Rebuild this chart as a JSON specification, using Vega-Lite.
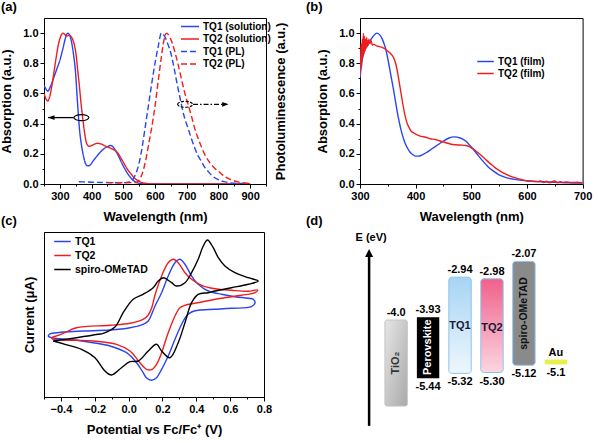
{
"$schema":"https://vega.github.io/schema/vega-lite/v6.json",
"padding":0,
"background":"white",
"config":{
 "font":"Liberation Sans",
 "view":{"stroke":"#000","strokeWidth":1},
 "axis":{"labelFont":"Liberation Sans","titleFont":"Liberation Sans","labelFontWeight":"bold","labelFontSize":11,"labelColor":"#000","titleFontWeight":"bold","titleFontSize":13,"titleColor":"#000","domainColor":"#000","tickColor":"#000","grid":false,"labelOverlap":false,"labelFlush":false,"labelBound":false,"labelPadding":2,"tickWidth":1,"domainWidth":1},
 "title":{"font":"Liberation Sans","fontSize":13,"fontWeight":"bold","color":"#000","anchor":"start","frame":"group","offset":4},
 "legend":{"labelFont":"Liberation Sans"}
},
"columns":2,
"spacing":{"row":48,"column":94},
"bounds":"flush",
"resolve":{"scale":{"color":"independent","strokeDash":"independent"},"legend":{"color":"independent","strokeDash":"independent"}},
"concat":[
 {"width":222,"height":166,
  "title":{"text":"(a)","dx":-43},
  "resolve":{"axis":{"y":"independent"}},
  "layer":[
   {"data":{"values":[
{"s":"TQ1 (solution)","x":250,"y":0.655},{"s":"TQ1 (solution)","x":256,"y":0.63},{"s":"TQ1 (solution)","x":262,"y":0.615},{"s":"TQ1 (solution)","x":270,"y":0.645},{"s":"TQ1 (solution)","x":280,"y":0.7},{"s":"TQ1 (solution)","x":290,"y":0.76},{"s":"TQ1 (solution)","x":300,"y":0.82},{"s":"TQ1 (solution)","x":310,"y":0.9},{"s":"TQ1 (solution)","x":318,"y":0.97},{"s":"TQ1 (solution)","x":325,"y":1.0},{"s":"TQ1 (solution)","x":330,"y":0.99},{"s":"TQ1 (solution)","x":337,"y":0.94},{"s":"TQ1 (solution)","x":343,"y":0.86},{"s":"TQ1 (solution)","x":349,"y":0.75},{"s":"TQ1 (solution)","x":355,"y":0.56},{"s":"TQ1 (solution)","x":362,"y":0.36},{"s":"TQ1 (solution)","x":368,"y":0.26},{"s":"TQ1 (solution)","x":375,"y":0.18},{"s":"TQ1 (solution)","x":381,"y":0.135},{"s":"TQ1 (solution)","x":388,"y":0.12},{"s":"TQ1 (solution)","x":395,"y":0.125},{"s":"TQ1 (solution)","x":404,"y":0.15},{"s":"TQ1 (solution)","x":415,"y":0.18},{"s":"TQ1 (solution)","x":425,"y":0.205},{"s":"TQ1 (solution)","x":440,"y":0.235},{"s":"TQ1 (solution)","x":452,"y":0.25},{"s":"TQ1 (solution)","x":460,"y":0.255},{"s":"TQ1 (solution)","x":468,"y":0.245},{"s":"TQ1 (solution)","x":476,"y":0.22},{"s":"TQ1 (solution)","x":485,"y":0.185},{"s":"TQ1 (solution)","x":495,"y":0.14},{"s":"TQ1 (solution)","x":505,"y":0.1},{"s":"TQ1 (solution)","x":515,"y":0.065},{"s":"TQ1 (solution)","x":525,"y":0.038},{"s":"TQ1 (solution)","x":535,"y":0.018},{"s":"TQ1 (solution)","x":545,"y":0.007},{"s":"TQ1 (solution)","x":560,"y":0.002},{"s":"TQ1 (solution)","x":580,"y":0},{"s":"TQ1 (solution)","x":700,"y":0},{"s":"TQ1 (solution)","x":900,"y":0},
{"s":"TQ2 (solution)","x":250,"y":0.6},{"s":"TQ2 (solution)","x":256,"y":0.565},{"s":"TQ2 (solution)","x":262,"y":0.55},{"s":"TQ2 (solution)","x":268,"y":0.58},{"s":"TQ2 (solution)","x":274,"y":0.64},{"s":"TQ2 (solution)","x":280,"y":0.72},{"s":"TQ2 (solution)","x":287,"y":0.82},{"s":"TQ2 (solution)","x":295,"y":0.92},{"s":"TQ2 (solution)","x":302,"y":0.975},{"s":"TQ2 (solution)","x":310,"y":1.0},{"s":"TQ2 (solution)","x":316,"y":0.99},{"s":"TQ2 (solution)","x":322,"y":0.98},{"s":"TQ2 (solution)","x":328,"y":0.985},{"s":"TQ2 (solution)","x":334,"y":0.98},{"s":"TQ2 (solution)","x":340,"y":0.96},{"s":"TQ2 (solution)","x":346,"y":0.92},{"s":"TQ2 (solution)","x":351,"y":0.86},{"s":"TQ2 (solution)","x":356,"y":0.76},{"s":"TQ2 (solution)","x":362,"y":0.64},{"s":"TQ2 (solution)","x":367,"y":0.53},{"s":"TQ2 (solution)","x":373,"y":0.42},{"s":"TQ2 (solution)","x":378,"y":0.34},{"s":"TQ2 (solution)","x":383,"y":0.28},{"s":"TQ2 (solution)","x":388,"y":0.255},{"s":"TQ2 (solution)","x":393,"y":0.25},{"s":"TQ2 (solution)","x":400,"y":0.255},{"s":"TQ2 (solution)","x":410,"y":0.265},{"s":"TQ2 (solution)","x":420,"y":0.27},{"s":"TQ2 (solution)","x":430,"y":0.265},{"s":"TQ2 (solution)","x":440,"y":0.255},{"s":"TQ2 (solution)","x":451,"y":0.245},{"s":"TQ2 (solution)","x":462,"y":0.235},{"s":"TQ2 (solution)","x":472,"y":0.225},{"s":"TQ2 (solution)","x":483,"y":0.205},{"s":"TQ2 (solution)","x":493,"y":0.17},{"s":"TQ2 (solution)","x":504,"y":0.13},{"s":"TQ2 (solution)","x":514,"y":0.095},{"s":"TQ2 (solution)","x":525,"y":0.065},{"s":"TQ2 (solution)","x":535,"y":0.04},{"s":"TQ2 (solution)","x":546,"y":0.022},{"s":"TQ2 (solution)","x":557,"y":0.01},{"s":"TQ2 (solution)","x":570,"y":0.005},{"s":"TQ2 (solution)","x":590,"y":0},{"s":"TQ2 (solution)","x":700,"y":0},{"s":"TQ2 (solution)","x":900,"y":0}
   ]},
   "mark":{"type":"line","strokeWidth":1.4,"interpolate":"monotone","clip":true},
   "encoding":{
    "x":{"field":"x","type":"quantitative","scale":{"domain":[250,950],"nice":false,"zero":false},"axis":{"title":"Wavelength (nm)","values":[250,300,350,400,450,500,550,600,650,700,750,800,850,900,950],"format":"d","labelExpr":"datum.value % 100 === 0 ? datum.label : ''","tickSize":{"condition":{"test":"datum.value % 100 === 0","value":4},"value":2},"titlePadding":9}},
    "y":{"field":"y","type":"quantitative","scale":{"domain":[0,1.1],"nice":false,"zero":false},"axis":{"title":"Absorption (a.u.)","values":[0,0.1,0.2,0.3,0.4,0.5,0.6,0.7,0.8,0.9,1.0],"format":".1f","labelExpr":"round(datum.value*10) % 2 === 0 ? datum.label : ''","tickSize":{"condition":{"test":"round(datum.value*10) % 2 === 0","value":4},"value":2},"titlePadding":9}},
    "color":{"field":"s","type":"nominal","scale":{"domain":["TQ1 (solution)","TQ2 (solution)","TQ1 (PL)","TQ2 (PL)"],"range":["#2a44f0","#f01d1d","#2a44f0","#f01d1d"]},"legend":{"title":null,"orient":"none","legendX":139,"legendY":1.5,"symbolType":"M-1.5,0H1.5","symbolSize":144,"symbolStrokeWidth":1.5,"labelFontSize":10,"labelFontWeight":"bold","labelOffset":6,"rowPadding":0.5,"padding":0,"labelColor":"#000"}},
    "strokeDash":{"field":"s","type":"nominal","scale":{"domain":["TQ1 (solution)","TQ2 (solution)","TQ1 (PL)","TQ2 (PL)"],"range":[[1,0],[1,0],[6,3],[6,3]]},"legend":{"title":null,"orient":"none","legendX":139,"legendY":1.5,"symbolType":"M-1.5,0H1.5","symbolSize":144,"symbolStrokeWidth":1.5,"labelFontSize":10,"labelFontWeight":"bold","labelOffset":6,"rowPadding":0.5,"padding":0,"labelColor":"#000"}}
   }},
   {"data":{"values":[
{"s":"TQ1 (PL)","x":360,"y":0.015},{"s":"TQ1 (PL)","x":400,"y":0.012},{"s":"TQ1 (PL)","x":440,"y":0.01},{"s":"TQ1 (PL)","x":480,"y":0.008},{"s":"TQ1 (PL)","x":510,"y":0.01},{"s":"TQ1 (PL)","x":520,"y":0.015},{"s":"TQ1 (PL)","x":530,"y":0.03},{"s":"TQ1 (PL)","x":540,"y":0.07},{"s":"TQ1 (PL)","x":550,"y":0.14},{"s":"TQ1 (PL)","x":560,"y":0.25},{"s":"TQ1 (PL)","x":570,"y":0.39},{"s":"TQ1 (PL)","x":580,"y":0.53},{"s":"TQ1 (PL)","x":590,"y":0.67},{"s":"TQ1 (PL)","x":600,"y":0.8},{"s":"TQ1 (PL)","x":610,"y":0.91},{"s":"TQ1 (PL)","x":620,"y":1.0},{"s":"TQ1 (PL)","x":630,"y":0.98},{"s":"TQ1 (PL)","x":640,"y":0.93},{"s":"TQ1 (PL)","x":651,"y":0.86},{"s":"TQ1 (PL)","x":660,"y":0.77},{"s":"TQ1 (PL)","x":672,"y":0.64},{"s":"TQ1 (PL)","x":680,"y":0.56},{"s":"TQ1 (PL)","x":688,"y":0.48},{"s":"TQ1 (PL)","x":696,"y":0.42},{"s":"TQ1 (PL)","x":704,"y":0.37},{"s":"TQ1 (PL)","x":715,"y":0.3},{"s":"TQ1 (PL)","x":725,"y":0.24},{"s":"TQ1 (PL)","x":735,"y":0.19},{"s":"TQ1 (PL)","x":746,"y":0.15},{"s":"TQ1 (PL)","x":757,"y":0.11},{"s":"TQ1 (PL)","x":767,"y":0.085},{"s":"TQ1 (PL)","x":780,"y":0.055},{"s":"TQ1 (PL)","x":798,"y":0.03},{"s":"TQ1 (PL)","x":815,"y":0.017},{"s":"TQ1 (PL)","x":830,"y":0.01},{"s":"TQ1 (PL)","x":850,"y":0.005},{"s":"TQ1 (PL)","x":880,"y":0.003},
{"s":"TQ2 (PL)","x":450,"y":0.01},{"s":"TQ2 (PL)","x":500,"y":0.008},{"s":"TQ2 (PL)","x":540,"y":0.01},{"s":"TQ2 (PL)","x":550,"y":0.025},{"s":"TQ2 (PL)","x":560,"y":0.07},{"s":"TQ2 (PL)","x":570,"y":0.15},{"s":"TQ2 (PL)","x":578,"y":0.24},{"s":"TQ2 (PL)","x":590,"y":0.38},{"s":"TQ2 (PL)","x":599,"y":0.5},{"s":"TQ2 (PL)","x":610,"y":0.68},{"s":"TQ2 (PL)","x":620,"y":0.84},{"s":"TQ2 (PL)","x":628,"y":0.95},{"s":"TQ2 (PL)","x":636,"y":1.0},{"s":"TQ2 (PL)","x":645,"y":0.98},{"s":"TQ2 (PL)","x":655,"y":0.93},{"s":"TQ2 (PL)","x":662,"y":0.88},{"s":"TQ2 (PL)","x":672,"y":0.8},{"s":"TQ2 (PL)","x":683,"y":0.7},{"s":"TQ2 (PL)","x":693,"y":0.61},{"s":"TQ2 (PL)","x":704,"y":0.53},{"s":"TQ2 (PL)","x":715,"y":0.45},{"s":"TQ2 (PL)","x":725,"y":0.37},{"s":"TQ2 (PL)","x":740,"y":0.28},{"s":"TQ2 (PL)","x":756,"y":0.2},{"s":"TQ2 (PL)","x":770,"y":0.15},{"s":"TQ2 (PL)","x":788,"y":0.105},{"s":"TQ2 (PL)","x":805,"y":0.075},{"s":"TQ2 (PL)","x":819,"y":0.05},{"s":"TQ2 (PL)","x":835,"y":0.033},{"s":"TQ2 (PL)","x":851,"y":0.02},{"s":"TQ2 (PL)","x":870,"y":0.01},{"s":"TQ2 (PL)","x":890,"y":0.006},{"s":"TQ2 (PL)","x":900,"y":0.006}
   ]},
   "mark":{"type":"line","strokeWidth":1.4,"interpolate":"monotone","clip":true},
   "encoding":{
    "x":{"field":"x","type":"quantitative","scale":{"domain":[250,950],"nice":false,"zero":false},"axis":{"title":"Wavelength (nm)","values":[250,300,350,400,450,500,550,600,650,700,750,800,850,900,950],"format":"d","labelExpr":"datum.value % 100 === 0 ? datum.label : ''","tickSize":{"condition":{"test":"datum.value % 100 === 0","value":4},"value":2},"titlePadding":9}},
    "y":{"field":"y","type":"quantitative","scale":{"domain":[0,1.1],"nice":false,"zero":false},"axis":{"orient":"right","title":"Photoluminescence (a.u.)","labels":false,"ticks":false,"domain":false,"titleAngle":270,"titleBaseline":"top","titlePadding":8}},
    "color":{"field":"s","type":"nominal","scale":{"domain":["TQ1 (solution)","TQ2 (solution)","TQ1 (PL)","TQ2 (PL)"],"range":["#2a44f0","#f01d1d","#2a44f0","#f01d1d"]},"legend":{"title":null,"orient":"none","legendX":139,"legendY":1.5,"symbolType":"M-1.5,0H1.5","symbolSize":144,"symbolStrokeWidth":1.5,"labelFontSize":10,"labelFontWeight":"bold","labelOffset":6,"rowPadding":0.5,"padding":0,"labelColor":"#000"}},
    "strokeDash":{"field":"s","type":"nominal","scale":{"domain":["TQ1 (solution)","TQ2 (solution)","TQ1 (PL)","TQ2 (PL)"],"range":[[1,0],[1,0],[6,3],[6,3]]},"legend":{"title":null,"orient":"none","legendX":139,"legendY":1.5,"symbolType":"M-1.5,0H1.5","symbolSize":144,"symbolStrokeWidth":1.5,"labelFontSize":10,"labelFontWeight":"bold","labelOffset":6,"rowPadding":0.5,"padding":0,"labelColor":"#000"}}
   }},
   {"data":{"values":[{}]},"mark":{"type":"rule","color":"#000","strokeWidth":1.3},
    "encoding":{"x":{"datum":263,"type":"quantitative","axis":{"title":"Wavelength (nm)","values":[250,300,350,400,450,500,550,600,650,700,750,800,850,900,950],"format":"d","labelExpr":"datum.value % 100 === 0 ? datum.label : ''","tickSize":{"condition":{"test":"datum.value % 100 === 0","value":4},"value":2},"titlePadding":9}},"x2":{"datum":344},"y":{"datum":0.44,"type":"quantitative","axis":null}}},
   {"data":{"values":[{}]},"mark":{"type":"point","shape":"M0,0L1.6,-0.6L1.6,0.6Z","size":64,"filled":true,"color":"#000","opacity":1},
    "encoding":{"x":{"datum":263,"type":"quantitative","axis":{"title":"Wavelength (nm)","values":[250,300,350,400,450,500,550,600,650,700,750,800,850,900,950],"format":"d","labelExpr":"datum.value % 100 === 0 ? datum.label : ''","tickSize":{"condition":{"test":"datum.value % 100 === 0","value":4},"value":2},"titlePadding":9}},"y":{"datum":0.44,"type":"quantitative","axis":null}}},
   {"data":{"values":[{}]},"mark":{"type":"point","shape":"M-1,0A1,0.4 0 1,1 1,0A1,0.4 0 1,1 -1,0Z","size":225,"filled":false,"color":"#000","strokeWidth":1.2,"opacity":1},
    "encoding":{"x":{"datum":368,"type":"quantitative","axis":{"title":"Wavelength (nm)","values":[250,300,350,400,450,500,550,600,650,700,750,800,850,900,950],"format":"d","labelExpr":"datum.value % 100 === 0 ? datum.label : ''","tickSize":{"condition":{"test":"datum.value % 100 === 0","value":4},"value":2},"titlePadding":9}},"y":{"datum":0.44,"type":"quantitative","axis":null}}},
   {"data":{"values":[{}]},"mark":{"type":"rule","color":"#000","strokeWidth":1.2,"strokeDash":[5,2,1.5,2]},
    "encoding":{"x":{"datum":720,"type":"quantitative","axis":{"title":"Wavelength (nm)","values":[250,300,350,400,450,500,550,600,650,700,750,800,850,900,950],"format":"d","labelExpr":"datum.value % 100 === 0 ? datum.label : ''","tickSize":{"condition":{"test":"datum.value % 100 === 0","value":4},"value":2},"titlePadding":9}},"x2":{"datum":826},"y":{"datum":0.528,"type":"quantitative","axis":null}}},
   {"data":{"values":[{}]},"mark":{"type":"point","shape":"M0,0L-1.6,-0.6L-1.6,0.6Z","size":64,"filled":true,"color":"#000","opacity":1},
    "encoding":{"x":{"datum":832,"type":"quantitative","axis":{"title":"Wavelength (nm)","values":[250,300,350,400,450,500,550,600,650,700,750,800,850,900,950],"format":"d","labelExpr":"datum.value % 100 === 0 ? datum.label : ''","tickSize":{"condition":{"test":"datum.value % 100 === 0","value":4},"value":2},"titlePadding":9}},"y":{"datum":0.528,"type":"quantitative","axis":null}}},
   {"data":{"values":[{}]},"mark":{"type":"point","shape":"M-1,0A1,0.4 0 1,1 1,0A1,0.4 0 1,1 -1,0Z","size":225,"filled":false,"color":"#000","strokeWidth":1.2,"strokeDash":[3,1.5],"opacity":1},
    "encoding":{"x":{"datum":695,"type":"quantitative","axis":{"title":"Wavelength (nm)","values":[250,300,350,400,450,500,550,600,650,700,750,800,850,900,950],"format":"d","labelExpr":"datum.value % 100 === 0 ? datum.label : ''","tickSize":{"condition":{"test":"datum.value % 100 === 0","value":4},"value":2},"titlePadding":9}},"y":{"datum":0.528,"type":"quantitative","axis":null}}}
  ]},
 {"width":222.6,"height":166,
  "title":{"text":"(b)","dx":-54},
  "data":{"values":[
{"s":"TQ1 (film)","x":300,"y":0.7},{"s":"TQ1 (film)","x":303,"y":0.8},{"s":"TQ1 (film)","x":306,"y":0.86},{"s":"TQ1 (film)","x":310,"y":0.9},{"s":"TQ1 (film)","x":315,"y":0.93},{"s":"TQ1 (film)","x":320,"y":0.96},{"s":"TQ1 (film)","x":325,"y":0.985},{"s":"TQ1 (film)","x":330,"y":1.0},{"s":"TQ1 (film)","x":335,"y":0.99},{"s":"TQ1 (film)","x":340,"y":0.96},{"s":"TQ1 (film)","x":345,"y":0.91},{"s":"TQ1 (film)","x":350,"y":0.83},{"s":"TQ1 (film)","x":355,"y":0.73},{"s":"TQ1 (film)","x":360,"y":0.63},{"s":"TQ1 (film)","x":365,"y":0.52},{"s":"TQ1 (film)","x":370,"y":0.42},{"s":"TQ1 (film)","x":375,"y":0.34},{"s":"TQ1 (film)","x":380,"y":0.28},{"s":"TQ1 (film)","x":385,"y":0.24},{"s":"TQ1 (film)","x":390,"y":0.21},{"s":"TQ1 (film)","x":395,"y":0.195},{"s":"TQ1 (film)","x":400,"y":0.185},{"s":"TQ1 (film)","x":405,"y":0.185},{"s":"TQ1 (film)","x":410,"y":0.19},{"s":"TQ1 (film)","x":420,"y":0.21},{"s":"TQ1 (film)","x":430,"y":0.235},{"s":"TQ1 (film)","x":440,"y":0.26},{"s":"TQ1 (film)","x":450,"y":0.285},{"s":"TQ1 (film)","x":460,"y":0.305},{"s":"TQ1 (film)","x":470,"y":0.312},{"s":"TQ1 (film)","x":480,"y":0.305},{"s":"TQ1 (film)","x":490,"y":0.285},{"s":"TQ1 (film)","x":500,"y":0.245},{"s":"TQ1 (film)","x":510,"y":0.2},{"s":"TQ1 (film)","x":520,"y":0.155},{"s":"TQ1 (film)","x":530,"y":0.115},{"s":"TQ1 (film)","x":540,"y":0.085},{"s":"TQ1 (film)","x":550,"y":0.06},{"s":"TQ1 (film)","x":560,"y":0.045},{"s":"TQ1 (film)","x":575,"y":0.032},{"s":"TQ1 (film)","x":590,"y":0.024},{"s":"TQ1 (film)","x":600,"y":0.02},{"s":"TQ1 (film)","x":625,"y":0.015},{"s":"TQ1 (film)","x":650,"y":0.012},{"s":"TQ1 (film)","x":675,"y":0.008},{"s":"TQ1 (film)","x":700,"y":0.006},
{"s":"TQ2 (film)","x":300,"y":0.72},{"s":"TQ2 (film)","x":301,"y":0.8},{"s":"TQ2 (film)","x":302,"y":0.93},{"s":"TQ2 (film)","x":303,"y":0.78},{"s":"TQ2 (film)","x":304,"y":0.96},{"s":"TQ2 (film)","x":305,"y":0.84},{"s":"TQ2 (film)","x":306,"y":1.0},{"s":"TQ2 (film)","x":307,"y":0.86},{"s":"TQ2 (film)","x":308,"y":0.98},{"s":"TQ2 (film)","x":309,"y":0.88},{"s":"TQ2 (film)","x":310,"y":0.96},{"s":"TQ2 (film)","x":311,"y":0.9},{"s":"TQ2 (film)","x":312,"y":0.97},{"s":"TQ2 (film)","x":313,"y":0.91},{"s":"TQ2 (film)","x":314,"y":0.95},{"s":"TQ2 (film)","x":315,"y":0.92},{"s":"TQ2 (film)","x":316,"y":0.96},{"s":"TQ2 (film)","x":318,"y":0.93},{"s":"TQ2 (film)","x":320,"y":0.95},{"s":"TQ2 (film)","x":322,"y":0.92},{"s":"TQ2 (film)","x":325,"y":0.925},{"s":"TQ2 (film)","x":330,"y":0.915},{"s":"TQ2 (film)","x":335,"y":0.91},{"s":"TQ2 (film)","x":340,"y":0.905},{"s":"TQ2 (film)","x":345,"y":0.895},{"s":"TQ2 (film)","x":350,"y":0.88},{"s":"TQ2 (film)","x":355,"y":0.865},{"s":"TQ2 (film)","x":360,"y":0.84},{"s":"TQ2 (film)","x":364,"y":0.8},{"s":"TQ2 (film)","x":368,"y":0.73},{"s":"TQ2 (film)","x":372,"y":0.64},{"s":"TQ2 (film)","x":376,"y":0.55},{"s":"TQ2 (film)","x":380,"y":0.47},{"s":"TQ2 (film)","x":384,"y":0.41},{"s":"TQ2 (film)","x":388,"y":0.375},{"s":"TQ2 (film)","x":392,"y":0.35},{"s":"TQ2 (film)","x":396,"y":0.34},{"s":"TQ2 (film)","x":400,"y":0.33},{"s":"TQ2 (film)","x":408,"y":0.317},{"s":"TQ2 (film)","x":418,"y":0.31},{"s":"TQ2 (film)","x":426,"y":0.3},{"s":"TQ2 (film)","x":435,"y":0.295},{"s":"TQ2 (film)","x":444,"y":0.285},{"s":"TQ2 (film)","x":453,"y":0.275},{"s":"TQ2 (film)","x":462,"y":0.265},{"s":"TQ2 (film)","x":471,"y":0.26},{"s":"TQ2 (film)","x":480,"y":0.258},{"s":"TQ2 (film)","x":490,"y":0.255},{"s":"TQ2 (film)","x":498,"y":0.245},{"s":"TQ2 (film)","x":506,"y":0.225},{"s":"TQ2 (film)","x":516,"y":0.195},{"s":"TQ2 (film)","x":525,"y":0.165},{"s":"TQ2 (film)","x":534,"y":0.135},{"s":"TQ2 (film)","x":542,"y":0.11},{"s":"TQ2 (film)","x":550,"y":0.09},{"s":"TQ2 (film)","x":560,"y":0.068},{"s":"TQ2 (film)","x":575,"y":0.045},{"s":"TQ2 (film)","x":590,"y":0.03},{"s":"TQ2 (film)","x":600,"y":0.022},{"s":"TQ2 (film)","x":610,"y":0.018},{"s":"TQ2 (film)","x":620,"y":0.016},{"s":"TQ2 (film)","x":625,"y":0.02},{"s":"TQ2 (film)","x":630,"y":0.01},{"s":"TQ2 (film)","x":635,"y":0.018},{"s":"TQ2 (film)","x":640,"y":0.008},{"s":"TQ2 (film)","x":645,"y":0.016},{"s":"TQ2 (film)","x":650,"y":0.02},{"s":"TQ2 (film)","x":655,"y":0.008},{"s":"TQ2 (film)","x":660,"y":0.015},{"s":"TQ2 (film)","x":665,"y":0.01},{"s":"TQ2 (film)","x":670,"y":0.014},{"s":"TQ2 (film)","x":680,"y":0.01},{"s":"TQ2 (film)","x":690,"y":0.012},{"s":"TQ2 (film)","x":700,"y":0.008}
  ]},
  "mark":{"type":"line","strokeWidth":1.4,"interpolate":"monotone","clip":true},
  "encoding":{
   "x":{"field":"x","type":"quantitative","scale":{"domain":[300,700],"nice":false,"zero":false},"axis":{"title":"Wavelength (nm)","values":[300,350,400,450,500,550,600,650,700],"format":"d","labelExpr":"datum.value % 100 === 0 ? datum.label : ''","tickSize":{"condition":{"test":"datum.value % 100 === 0","value":4},"value":2},"titlePadding":9}},
   "y":{"field":"y","type":"quantitative","scale":{"domain":[0,1.1],"nice":false,"zero":false},"axis":{"title":"Absorption (a.u.)","values":[0,0.1,0.2,0.3,0.4,0.5,0.6,0.7,0.8,0.9,1.0],"format":".1f","labelExpr":"round(datum.value*10) % 2 === 0 ? datum.label : ''","tickSize":{"condition":{"test":"round(datum.value*10) % 2 === 0","value":4},"value":2},"titlePadding":9}},
   "color":{"field":"s","type":"nominal","scale":{"domain":["TQ1 (film)","TQ2 (film)"],"range":["#2a44f0","#f01d1d"]},"legend":{"title":null,"orient":"none","legendX":119,"legendY":37,"symbolType":"M-1.5,0H1.5","symbolSize":121,"symbolStrokeWidth":1.5,"labelFontSize":10,"labelFontWeight":"bold","labelOffset":6,"rowPadding":0,"padding":0,"labelColor":"#000"}}
  }},
 {"width":220,"height":165,
  "title":{"text":"(c)","dx":-43},
  "data":{"values":[
{"s":"TQ1","o":1,"v":-0.465,"i":-2.54},{"s":"TQ1","o":2,"v":-0.386,"i":-2.2},{"s":"TQ1","o":3,"v":-0.268,"i":-2.0},{"s":"TQ1","o":4,"v":-0.11,"i":-1.8},{"s":"TQ1","o":5,"v":0.008,"i":-1.34},{"s":"TQ1","o":6,"v":0.086,"i":-0.66},{"s":"TQ1","o":7,"v":0.116,"i":0},{"s":"TQ1","o":8,"v":0.156,"i":3.0},{"s":"TQ1","o":9,"v":0.195,"i":5.66},{"s":"TQ1","o":10,"v":0.234,"i":9.0},{"s":"TQ1","o":11,"v":0.274,"i":11.66},{"s":"TQ1","o":12,"v":0.303,"i":12.34},{"s":"TQ1","o":13,"v":0.333,"i":11.34},{"s":"TQ1","o":14,"v":0.372,"i":9.0},{"s":"TQ1","o":15,"v":0.411,"i":7.34},{"s":"TQ1","o":16,"v":0.471,"i":6.0},{"s":"TQ1","o":17,"v":0.549,"i":5.34},{"s":"TQ1","o":18,"v":0.628,"i":4.86},{"s":"TQ1","o":19,"v":0.707,"i":4.54},{"s":"TQ1","o":20,"v":0.737,"i":4.34},{"s":"TQ1","o":21,"v":0.747,"i":3.66},{"s":"TQ1","o":22,"v":0.726,"i":2.86},{"s":"TQ1","o":23,"v":0.608,"i":2.54},{"s":"TQ1","o":24,"v":0.51,"i":2.34},{"s":"TQ1","o":25,"v":0.411,"i":2.14},{"s":"TQ1","o":26,"v":0.372,"i":1.8},{"s":"TQ1","o":27,"v":0.342,"i":1.0},{"s":"TQ1","o":28,"v":0.313,"i":-0.66},{"s":"TQ1","o":29,"v":0.274,"i":-3.66},{"s":"TQ1","o":30,"v":0.234,"i":-7.0},{"s":"TQ1","o":31,"v":0.195,"i":-9.66},{"s":"TQ1","o":32,"v":0.165,"i":-11.34},{"s":"TQ1","o":33,"v":0.135,"i":-11.86},{"s":"TQ1","o":34,"v":0.106,"i":-11.4},{"s":"TQ1","o":35,"v":0.086,"i":-10.34},{"s":"TQ1","o":36,"v":0.047,"i":-8.34},{"s":"TQ1","o":37,"v":-0.012,"i":-6.34},{"s":"TQ1","o":38,"v":-0.11,"i":-5.0},{"s":"TQ1","o":39,"v":-0.209,"i":-4.34},{"s":"TQ1","o":40,"v":-0.308,"i":-3.86},{"s":"TQ1","o":41,"v":-0.406,"i":-3.54},{"s":"TQ1","o":42,"v":-0.456,"i":-3.34},{"s":"TQ1","o":43,"v":-0.475,"i":-3.0},{"s":"TQ1","o":44,"v":-0.465,"i":-2.54},
{"s":"TQ2","o":1,"v":-0.446,"i":-3.2},{"s":"TQ2","o":2,"v":-0.386,"i":-2.46},{"s":"TQ2","o":3,"v":-0.308,"i":-1.34},{"s":"TQ2","o":4,"v":-0.11,"i":-0.86},{"s":"TQ2","o":5,"v":0.008,"i":-0.46},{"s":"TQ2","o":6,"v":0.086,"i":0.34},{"s":"TQ2","o":7,"v":0.116,"i":1.2},{"s":"TQ2","o":8,"v":0.136,"i":2.6},{"s":"TQ2","o":9,"v":0.156,"i":5.2},{"s":"TQ2","o":10,"v":0.195,"i":9.0},{"s":"TQ2","o":11,"v":0.234,"i":11.66},{"s":"TQ2","o":12,"v":0.264,"i":12.34},{"s":"TQ2","o":13,"v":0.293,"i":11.66},{"s":"TQ2","o":14,"v":0.333,"i":9.66},{"s":"TQ2","o":15,"v":0.372,"i":8.34},{"s":"TQ2","o":16,"v":0.431,"i":7.14},{"s":"TQ2","o":17,"v":0.51,"i":6.46},{"s":"TQ2","o":18,"v":0.608,"i":6.14},{"s":"TQ2","o":19,"v":0.707,"i":5.94},{"s":"TQ2","o":20,"v":0.762,"i":6.2},{"s":"TQ2","o":21,"v":0.747,"i":5.66},{"s":"TQ2","o":22,"v":0.667,"i":5.14},{"s":"TQ2","o":23,"v":0.549,"i":4.54},{"s":"TQ2","o":24,"v":0.431,"i":3.8},{"s":"TQ2","o":25,"v":0.333,"i":3.14},{"s":"TQ2","o":26,"v":0.303,"i":2.66},{"s":"TQ2","o":27,"v":0.274,"i":1.0},{"s":"TQ2","o":28,"v":0.234,"i":-2.34},{"s":"TQ2","o":29,"v":0.195,"i":-6.34},{"s":"TQ2","o":30,"v":0.165,"i":-8.66},{"s":"TQ2","o":31,"v":0.14,"i":-9.66},{"s":"TQ2","o":32,"v":0.106,"i":-9.66},{"s":"TQ2","o":33,"v":0.067,"i":-8.34},{"s":"TQ2","o":34,"v":0.008,"i":-6.0},{"s":"TQ2","o":35,"v":-0.071,"i":-4.66},{"s":"TQ2","o":36,"v":-0.209,"i":-4.0},{"s":"TQ2","o":37,"v":-0.308,"i":-3.86},{"s":"TQ2","o":38,"v":-0.406,"i":-3.8},{"s":"TQ2","o":39,"v":-0.446,"i":-3.66},{"s":"TQ2","o":40,"v":-0.455,"i":-3.4},{"s":"TQ2","o":41,"v":-0.446,"i":-3.2},
{"s":"spiro-OMeTAD","o":1,"v":-0.446,"i":-4.0},{"s":"spiro-OMeTAD","o":2,"v":-0.308,"i":-3.34},{"s":"spiro-OMeTAD","o":3,"v":-0.18,"i":-2.66},{"s":"spiro-OMeTAD","o":4,"v":-0.15,"i":-2.46},{"s":"spiro-OMeTAD","o":5,"v":-0.081,"i":-1.2},{"s":"spiro-OMeTAD","o":6,"v":-0.032,"i":1.66},{"s":"spiro-OMeTAD","o":7,"v":0.027,"i":4.34},{"s":"spiro-OMeTAD","o":8,"v":0.086,"i":5.34},{"s":"spiro-OMeTAD","o":9,"v":0.145,"i":6.66},{"s":"spiro-OMeTAD","o":10,"v":0.175,"i":8.0},{"s":"spiro-OMeTAD","o":11,"v":0.205,"i":8.66},{"s":"spiro-OMeTAD","o":12,"v":0.254,"i":7.66},{"s":"spiro-OMeTAD","o":13,"v":0.283,"i":7.0},{"s":"spiro-OMeTAD","o":14,"v":0.333,"i":7.66},{"s":"spiro-OMeTAD","o":15,"v":0.372,"i":9.66},{"s":"spiro-OMeTAD","o":16,"v":0.411,"i":12.34},{"s":"spiro-OMeTAD","o":17,"v":0.441,"i":15.0},{"s":"spiro-OMeTAD","o":18,"v":0.466,"i":16.2},{"s":"spiro-OMeTAD","o":19,"v":0.5,"i":14.66},{"s":"spiro-OMeTAD","o":20,"v":0.53,"i":12.66},{"s":"spiro-OMeTAD","o":21,"v":0.569,"i":11.0},{"s":"spiro-OMeTAD","o":22,"v":0.628,"i":9.66},{"s":"spiro-OMeTAD","o":23,"v":0.707,"i":8.66},{"s":"spiro-OMeTAD","o":24,"v":0.766,"i":8.0},{"s":"spiro-OMeTAD","o":25,"v":0.707,"i":7.34},{"s":"spiro-OMeTAD","o":26,"v":0.608,"i":6.66},{"s":"spiro-OMeTAD","o":27,"v":0.51,"i":6.0},{"s":"spiro-OMeTAD","o":28,"v":0.471,"i":5.66},{"s":"spiro-OMeTAD","o":29,"v":0.411,"i":5.34},{"s":"spiro-OMeTAD","o":30,"v":0.372,"i":3.66},{"s":"spiro-OMeTAD","o":31,"v":0.333,"i":-0.34},{"s":"spiro-OMeTAD","o":32,"v":0.293,"i":-4.34},{"s":"spiro-OMeTAD","o":33,"v":0.244,"i":-7.34},{"s":"spiro-OMeTAD","o":34,"v":0.195,"i":-6.0},{"s":"spiro-OMeTAD","o":35,"v":0.165,"i":-4.66},{"s":"spiro-OMeTAD","o":36,"v":0.116,"i":-6.0},{"s":"spiro-OMeTAD","o":37,"v":0.057,"i":-8.0},{"s":"spiro-OMeTAD","o":38,"v":0.008,"i":-8.14},{"s":"spiro-OMeTAD","o":39,"v":-0.042,"i":-9.34},{"s":"spiro-OMeTAD","o":40,"v":-0.101,"i":-10.8},{"s":"spiro-OMeTAD","o":41,"v":-0.14,"i":-10.0},{"s":"spiro-OMeTAD","o":42,"v":-0.199,"i":-7.34},{"s":"spiro-OMeTAD","o":43,"v":-0.278,"i":-5.66},{"s":"spiro-OMeTAD","o":44,"v":-0.376,"i":-4.66},{"s":"spiro-OMeTAD","o":45,"v":-0.446,"i":-4.0}
  ]},
  "mark":{"type":"line","strokeWidth":1.4,"interpolate":"catmull-rom","clip":true},
  "encoding":{
   "x":{"field":"v","type":"quantitative","scale":{"domain":[-0.5,0.8],"nice":false,"zero":false},"axis":{"title":"Potential vs Fc/Fc⁺ (V)","values":[-0.5,-0.4,-0.3,-0.2,-0.1,0,0.1,0.2,0.3,0.4,0.5,0.6,0.7,0.8],"format":".1f","labelExpr":"abs(round(datum.value*10)) % 2 === 0 && datum.value > -0.45 ? datum.label : ''","tickSize":{"condition":{"test":"abs(round(datum.value*10)) % 2 === 0","value":4},"value":2},"titlePadding":9}},
   "y":{"field":"i","type":"quantitative","scale":{"domain":[-15.2,17.8],"nice":false,"zero":false},"axis":{"title":"Current (μA)","labels":false,"ticks":false,"titlePadding":8}},
   "order":{"field":"o","type":"quantitative"},
   "color":{"field":"s","type":"nominal","scale":{"domain":["TQ1","TQ2","spiro-OMeTAD"],"range":["#2a44f0","#f01d1d","#000000"]},"legend":{"title":null,"orient":"none","legendX":12,"legendY":3,"symbolType":"M-1.5,0H1.5","symbolSize":121,"symbolStrokeWidth":1.5,"labelFontSize":10.5,"labelFontWeight":"bold","labelOffset":6,"rowPadding":2,"padding":0,"labelColor":"#000"}}
  }},
 {"width":232,"height":200,
  "title":{"text":"(d)","dx":-54},
  "view":{"stroke":null},
  "data":{"values":[
   {"name":"TiO2","top":-4.0,"bottom":-6.13,"up":"-4.0","low":"","inner":"TiO₂"},
   {"name":"Perovskite","top":-3.93,"bottom":-5.44,"up":"-3.93","low":"-5.44","inner":"Perovskite"},
   {"name":"TQ1","top":-2.94,"bottom":-5.32,"up":"-2.94","low":"-5.32","inner":"TQ1"},
   {"name":"TQ2","top":-2.98,"bottom":-5.30,"up":"-2.98","low":"-5.30","inner":"TQ2"},
   {"name":"spiro","top":-2.55,"bottom":-5.12,"up":"-2.07","low":"-5.12","inner":"spiro-OMeTAD"},
   {"name":"Au","top":-4.98,"bottom":-5.1,"up":"Au","low":"-5.1","inner":""}
  ]},
  "layer":[
   {"data":{"values":[{}]},"mark":{"type":"rule","strokeWidth":2.5,"color":"#000","xOffset":-27},
    "encoding":{"x":{"datum":"TiO2","type":"nominal","scale":{"type":"band","domain":["TiO2","Perovskite","TQ1","TQ2","spiro","Au"],"paddingInner":0.3,"paddingOuter":0.78},"axis":null},"y":{"datum":-6.62,"type":"quantitative","scale":{"domain":[-6.772,-1.822],"nice":false,"zero":false},"axis":null},"y2":{"datum":-2.38}}},
   {"data":{"values":[{}]},"mark":{"type":"point","shape":"M0,0L-0.8,1.6L0.8,1.6Z","size":100,"filled":true,"color":"#000","opacity":1,"xOffset":-27},
    "encoding":{"x":{"datum":"TiO2","type":"nominal","axis":null},"y":{"datum":-2.24,"type":"quantitative","axis":null}}},
   {"data":{"values":[{}]},"mark":{"type":"text","text":"E (eV)","fontSize":11,"fontWeight":"bold","color":"#000","dx":-25},
    "encoding":{"x":{"datum":"TiO2","type":"nominal","axis":null},"y":{"datum":-1.97,"type":"quantitative","axis":null}}},
   {"transform":[{"filter":"datum.name === 'TiO2'"}],
    "mark":{"type":"bar","cornerRadius":2,"stroke":"#c4c4c4","strokeWidth":1,"fill":{"gradient":"linear","x1":0,"y1":0,"x2":1,"y2":1,"stops":[{"offset":0,"color":"#e6e6e6"},{"offset":1,"color":"#a9a9a9"}]}},
    "encoding":{"x":{"field":"name","type":"nominal","axis":null},"y":{"field":"top","type":"quantitative","axis":null},"y2":{"field":"bottom"}}},
   {"transform":[{"filter":"datum.name === 'Perovskite'"}],
    "mark":{"type":"bar","fill":"#000000"},
    "encoding":{"x":{"field":"name","type":"nominal","axis":null},"y":{"field":"top","type":"quantitative","axis":null},"y2":{"field":"bottom"}}},
   {"transform":[{"filter":"datum.name === 'TQ1'"}],
    "mark":{"type":"bar","cornerRadius":3,"stroke":"#8cc3ee","strokeWidth":1,"fill":{"gradient":"linear","x1":0,"y1":0,"x2":0,"y2":1,"stops":[{"offset":0,"color":"#a7d4f4"},{"offset":1,"color":"#eef7fd"}]}},
    "encoding":{"x":{"field":"name","type":"nominal","axis":null},"y":{"field":"top","type":"quantitative","axis":null},"y2":{"field":"bottom"}}},
   {"transform":[{"filter":"datum.name === 'TQ2'"}],
    "mark":{"type":"bar","cornerRadius":3,"stroke":"#8cc3ee","strokeWidth":1,"fill":{"gradient":"linear","x1":0,"y1":0,"x2":0,"y2":1,"stops":[{"offset":0,"color":"#f0608a"},{"offset":1,"color":"#fbd6e1"}]}},
    "encoding":{"x":{"field":"name","type":"nominal","axis":null},"y":{"field":"top","type":"quantitative","axis":null},"y2":{"field":"bottom"}}},
   {"transform":[{"filter":"datum.name === 'spiro'"}],
    "mark":{"type":"bar","cornerRadius":3,"stroke":"#8cc3ee","strokeWidth":1,"fill":"#8a8a8a"},
    "encoding":{"x":{"field":"name","type":"nominal","axis":null},"y":{"field":"top","type":"quantitative","axis":null},"y2":{"field":"bottom"}}},
   {"transform":[{"filter":"datum.name === 'Au'"}],
    "mark":{"type":"bar","fill":"#e6f04a"},
    "encoding":{"x":{"field":"name","type":"nominal","axis":null},"y":{"field":"top","type":"quantitative","axis":null},"y2":{"field":"bottom"}}},
   {"mark":{"type":"text","baseline":"bottom","dy":-2,"fontSize":11,"fontWeight":"bold","color":"#000"},
    "encoding":{"x":{"field":"name","type":"nominal","axis":null},"y":{"field":"top","type":"quantitative","axis":null},"text":{"field":"up"}}},
   {"mark":{"type":"text","baseline":"top","dy":3,"fontSize":11,"fontWeight":"bold","color":"#000"},
    "encoding":{"x":{"field":"name","type":"nominal","axis":null},"y":{"field":"bottom","type":"quantitative","axis":null},"text":{"field":"low"}}},
   {"transform":[{"filter":"datum.name === 'TiO2'"}],
    "mark":{"type":"text","angle":270,"dx":-43,"fontSize":11,"fontWeight":"bold","color":"#333","baseline":"middle","align":"center"},
    "encoding":{"x":{"field":"name","type":"nominal","axis":null},"y":{"field":"top","type":"quantitative","axis":null},"text":{"field":"inner"}}},
   {"transform":[{"filter":"datum.name === 'Perovskite'"}],
    "mark":{"type":"text","angle":270,"dx":-30,"fontSize":11,"fontWeight":"bold","color":"#fff","baseline":"middle","align":"center"},
    "encoding":{"x":{"field":"name","type":"nominal","axis":null},"y":{"field":"top","type":"quantitative","axis":null},"text":{"field":"inner"}}},
   {"transform":[{"filter":"datum.name === 'spiro'"}],
    "mark":{"type":"text","angle":270,"dx":-52,"fontSize":10.5,"fontWeight":"bold","color":"#111","baseline":"middle","align":"center"},
    "encoding":{"x":{"field":"name","type":"nominal","axis":null},"y":{"field":"top","type":"quantitative","axis":null},"text":{"field":"inner"}}},
   {"transform":[{"filter":"datum.name === 'TQ1' || datum.name === 'TQ2'"}],
    "mark":{"type":"text","dy":49,"fontSize":11,"fontWeight":"bold","color":"#1a1a33","baseline":"middle","align":"center"},
    "encoding":{"x":{"field":"name","type":"nominal","axis":null},"y":{"field":"top","type":"quantitative","axis":null},"text":{"field":"inner"}}}
  ]}
]
}
